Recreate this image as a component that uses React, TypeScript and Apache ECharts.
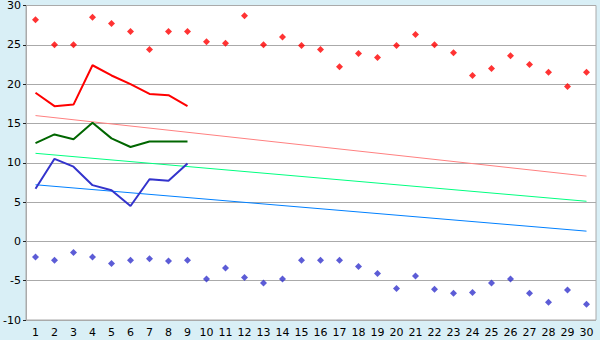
import React, { useEffect, useRef } from "react";
import * as echarts from "echarts";

const categories = Array.from({ length: 30 }, (_, i) => String(i + 1));

const redPoints = [28.2, 25.0, 25.0, 28.5, 27.7, 26.7, 24.4, 26.7, 26.7, 25.4, 25.2, 28.7, 25.0, 26.0, 24.9, 24.4, 22.2, 23.9, 23.4, 24.9, 26.3, 25.0, 24.0, 21.1, 22.0, 23.6, 22.5, 21.5, 19.7, 21.5];
const bluePoints = [-2.0, -2.4, -1.4, -2.0, -2.8, -2.4, -2.2, -2.5, -2.4, -4.8, -3.4, -4.6, -5.3, -4.8, -2.4, -2.4, -2.4, -3.2, -4.1, -6.0, -4.4, -6.1, -6.6, -6.5, -5.3, -4.8, -6.6, -7.75, -6.2, -8.0];
const redLine = [18.9, 17.2, 17.4, 22.4, 21.1, 20.0, 18.75, 18.6, 17.2];
const greenLine = [12.5, 13.6, 13.0, 15.1, 13.1, 12.0, 12.7, 12.7, 12.7];
const blueLine = [6.7, 10.5, 9.5, 7.15, 6.5, 4.5, 7.9, 7.7, 9.9];
const pinkTrend = [[0, 16.0], [29, 8.3]];
const greenTrend = [[0, 11.2], [29, 5.1]];
const blueTrend = [[0, 7.2], [29, 1.3]];

export default function App() {
  const ref = useRef<HTMLDivElement>(null);
  useEffect(() => {
    const chart = echarts.init(ref.current!, null, { renderer: "svg" });
    const font = "DejaVu Sans";
    chart.setOption({
      animation: false,
      backgroundColor: "#d9eff6",
      grid: {
        left: 26,
        right: 4,
        top: 5,
        bottom: 20,
        show: true,
        backgroundColor: "#ffffff",
        borderColor: "#aaaaaa",
        borderWidth: 1,
      },
      xAxis: {
        type: "category",
        data: categories,
        boundaryGap: true,
        axisLine: { lineStyle: { color: "#aaaaaa" } },
        axisTick: { alignWithLabel: true, length: 5, lineStyle: { color: "#222" } },
        axisLabel: { color: "#000", fontFamily: font, fontSize: 11, margin: 7, interval: 0 },
        splitLine: { show: false },
      },
      yAxis: {
        type: "value",
        min: -10,
        max: 30,
        interval: 5,
        axisLine: { show: true, lineStyle: { color: "#aaaaaa" } },
        axisTick: { show: true, length: 3, lineStyle: { color: "#222" } },
        axisLabel: { color: "#000", fontFamily: font, fontSize: 11, margin: 5 },
        splitLine: { lineStyle: { color: "#aaaaaa", width: 1 } },
      },
      series: [
        { type: "line", data: pinkTrend, symbol: "none", lineStyle: { color: "#ff8080", width: 1 } },
        { type: "line", data: greenTrend, symbol: "none", lineStyle: { color: "#00ff80", width: 1 } },
        { type: "line", data: blueTrend, symbol: "none", lineStyle: { color: "#0080ff", width: 1 } },
        { type: "line", data: redLine, symbol: "none", lineStyle: { color: "#ff0000", width: 2 } },
        { type: "line", data: greenLine, symbol: "none", lineStyle: { color: "#006600", width: 2 } },
        { type: "line", data: blueLine, symbol: "none", lineStyle: { color: "#3333cc", width: 2 } },
        { type: "scatter", data: redPoints, symbol: "diamond", symbolSize: 7, itemStyle: { color: "#ff0000" } },
        { type: "scatter", data: bluePoints, symbol: "diamond", symbolSize: 7, itemStyle: { color: "#3333cc" } },
      ],
    });
    return () => chart.dispose();
  }, []);
  return <div ref={ref} style={{ width: 600, height: 340, position: "absolute", left: 0, top: 0 }} />;
}
